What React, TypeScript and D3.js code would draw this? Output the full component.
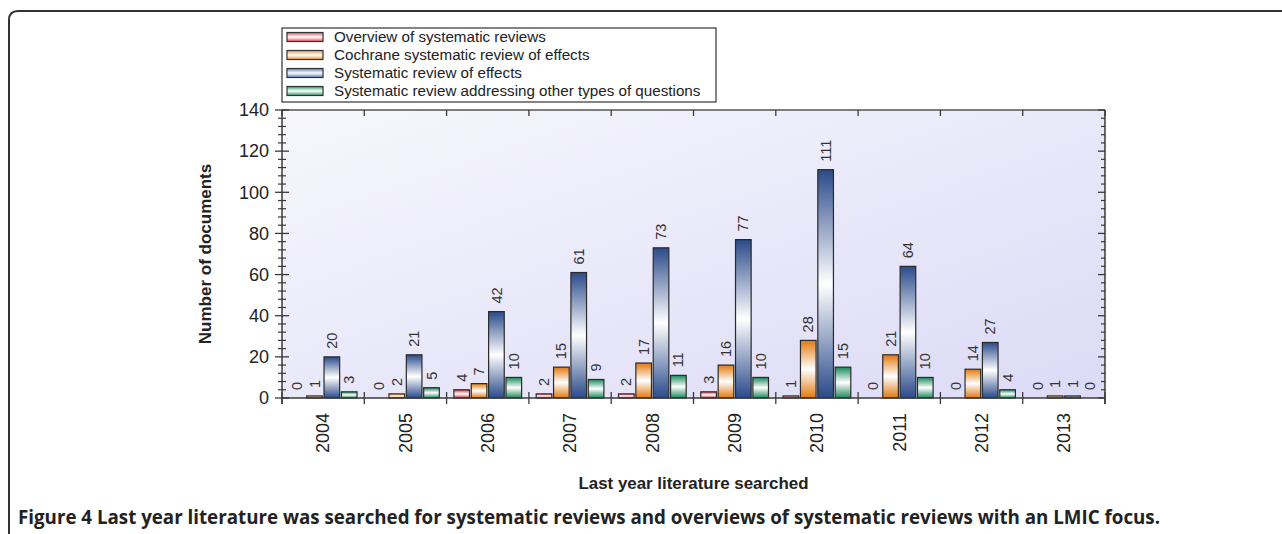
import React from "react";
import * as d3 from "d3";

const years = ["2004", "2005", "2006", "2007", "2008", "2009", "2010", "2011", "2012", "2013"];
const seriesNames = [
  "Overview of systematic reviews",
  "Cochrane systematic review of effects",
  "Systematic review of effects",
  "Systematic review addressing other types of questions",
];
const overview = [0, 0, 4, 2, 2, 3, 1, 0, 0, 0];
const cochrane = [1, 2, 7, 15, 17, 16, 28, 21, 14, 1];
const srEffects = [20, 21, 42, 61, 73, 77, 111, 64, 27, 1];
const otherQ = [3, 5, 10, 9, 11, 10, 15, 10, 4, 0];
const yTicks = [0, 20, 40, 60, 80, 100, 120, 140];
const seriesColors = ["#d8323f", "#e2790f", "#2a4a8a", "#19885a"];
const legendColors = ["#e0505c", "#ee9440", "#5b7cb5", "#2f9e6c"];

const W = 1282;
const H = 534;
const M = { left: 282, right: 1105, top: 110, bottom: 398 };

export default function App() {
  const allSeries = [overview, cochrane, srEffects, otherQ];
  const x0 = d3.scaleBand<string>().domain(years).range([M.left, M.right]).padding(0);
  const x1 = d3
    .scaleBand<number>()
    .domain([0, 1, 2, 3])
    .range([0, x0.bandwidth()])
    .paddingInner(0.1)
    .paddingOuter(0.42);
  const y = d3.scaleLinear().domain([0, 140]).range([M.bottom, M.top]);
  const minor = d3.range(0, 141, 4).filter((v) => v % 20 !== 0);
  const boundaries = years.map((yy) => x0(yy) as number).concat([M.right]);
  const axisColor = "#3a3a3a";
  const font = "'Liberation Sans', Arial, Helvetica, sans-serif";

  return (
    <svg width={W} height={H} style={{ position: "absolute", left: 0, top: 0 }}>
      <defs>
        <linearGradient id="bg" x1="0" y1="0" x2="1" y2="1">
          <stop offset="0" stopColor="#f7f7fd" />
          <stop offset="1" stopColor="#dcdaf6" />
        </linearGradient>
        {seriesColors.map((c, i) => (
          <linearGradient key={i} id={`bar${i}`} x1="0" y1="0" x2="0" y2="1">
            <stop offset="0" stopColor={c} />
            <stop offset="0.5" stopColor="#ffffff" />
            <stop offset="1" stopColor={c} />
          </linearGradient>
        ))}
        {legendColors.map((c, i) => (
          <linearGradient key={i} id={`leg${i}`} x1="0" y1="0" x2="0" y2="1">
            <stop offset="0" stopColor={c} />
            <stop offset="0.5" stopColor="#ffffff" />
            <stop offset="1" stopColor={c} />
          </linearGradient>
        ))}
      </defs>
      <rect x={0} y={0} width={W} height={H} fill="#ffffff" />
      {/* outer frame */}
      <path d={`M${W},11 L18,11 Q9,11 9,20 L9,${H}`} fill="none" stroke="#333" strokeWidth={2} />

      {/* plot background */}
      <rect x={M.left} y={M.top} width={M.right - M.left} height={M.bottom - M.top} fill="url(#bg)" />

      {/* bars */}
      {allSeries.map((vals, si) =>
        vals.map((v, yi) => {
          const bx = (x0(years[yi]) as number) + (x1(si) as number);
          const by = y(v);
          const bw = x1.bandwidth();
          return (
            <g key={`${si}-${yi}`}>
              {v > 0 && (
                <rect
                  x={bx}
                  y={by}
                  width={bw}
                  height={M.bottom - by}
                  fill={`url(#bar${si})`}
                  stroke="#2a2a2a"
                  strokeWidth={1.2}
                />
              )}
              <text
                transform={`translate(${bx + bw / 2},${by - 8}) rotate(-90)`}
                fontFamily={font}
                fontSize={14.5}
                fill="#333"
                dy="0.35em"
                textAnchor="start"
              >
                {v}
              </text>
            </g>
          );
        })
      )}

      {/* axes lines */}
      <line x1={M.left} x2={M.right} y1={M.top} y2={M.top} stroke="#555" strokeWidth={1.5} />
      <line x1={M.right} x2={M.right} y1={M.top} y2={M.bottom + 6} stroke={axisColor} strokeWidth={1.5} />
      <line x1={M.left} x2={M.right} y1={M.bottom} y2={M.bottom} stroke={axisColor} strokeWidth={1.5} />
      <line x1={M.left} x2={M.left} y1={M.top} y2={M.bottom + 6} stroke={axisColor} strokeWidth={1.5} />

      {/* left axis ticks */}
      {yTicks.map((t) => (
        <g key={`yt${t}`}>
          <line x1={M.left - 7} x2={M.left + 7} y1={y(t)} y2={y(t)} stroke={axisColor} strokeWidth={1.3} />
          <line x1={M.right - 7} x2={M.right} y1={y(t)} y2={y(t)} stroke={axisColor} strokeWidth={1.3} />
          <text
            x={M.left - 13}
            y={y(t)}
            dy="0.35em"
            textAnchor="end"
            fontFamily={font}
            fontSize={18}
            fill="#222"
          >
            {t}
          </text>
        </g>
      ))}
      {minor.map((t) => (
        <g key={`ym${t}`}>
          <line x1={M.left - 4} x2={M.left + 4} y1={y(t)} y2={y(t)} stroke={axisColor} strokeWidth={1.2} />
          <line x1={M.right - 4} x2={M.right} y1={y(t)} y2={y(t)} stroke={axisColor} strokeWidth={1.2} />
        </g>
      ))}

      {/* category boundary ticks */}
      {boundaries.map((bx, i) => (
        <g key={`xb${i}`}>
          <line x1={bx} x2={bx} y1={M.bottom - 6} y2={M.bottom + 6} stroke={axisColor} strokeWidth={1.3} />
          <line x1={bx} x2={bx} y1={M.top} y2={M.top + 6} stroke={axisColor} strokeWidth={1.3} />
        </g>
      ))}

      {/* x tick labels */}
      {years.map((yy) => (
        <text
          key={`xl${yy}`}
          transform={`translate(${(x0(yy) as number) + x0.bandwidth() / 2},${M.bottom + 15}) rotate(-90)`}
          textAnchor="end"
          dy="0.35em"
          fontFamily={font}
          fontSize={18}
          fill="#222"
        >
          {yy}
        </text>
      ))}

      {/* axis titles */}
      <text
        transform={`translate(205,${(M.top + M.bottom) / 2}) rotate(-90)`}
        textAnchor="middle"
        dy="0.35em"
        fontFamily={font}
        fontWeight="bold"
        fontSize={17}
        fill="#222"
      >
        Number of documents
      </text>
      <text
        x={(M.left + M.right) / 2}
        y={489}
        textAnchor="middle"
        fontFamily={font}
        fontWeight="bold"
        fontSize={16}
        fill="#222"
        textLength={230}
        lengthAdjust="spacingAndGlyphs"
      >
        Last year literature searched
      </text>

      {/* legend */}
      <rect x={282} y={28} width={434} height={74} fill="#ffffff" stroke="#333" strokeWidth={1.2} />
      {seriesNames.map((n, i) => (
        <g key={`lg${i}`}>
          <rect x={287} y={32.5 + i * 18} width={36} height={9} fill={`url(#leg${i})`} stroke="#333" strokeWidth={1.2} />
          <text x={334} y={37 + i * 18} dy="0.35em" fontFamily={font} fontSize={15.2} fill="#222">
            {n}
          </text>
        </g>
      ))}

      {/* caption */}
      <text x={18} y={524} fontFamily="'Open Sans', 'Noto Sans', sans-serif" fontSize={19} fontWeight="bold" fill="#222" textLength={1142} lengthAdjust="spacingAndGlyphs">
        Figure 4 Last year literature was searched for systematic reviews and overviews of systematic reviews with an LMIC focus.
      </text>
    </svg>
  );
}
